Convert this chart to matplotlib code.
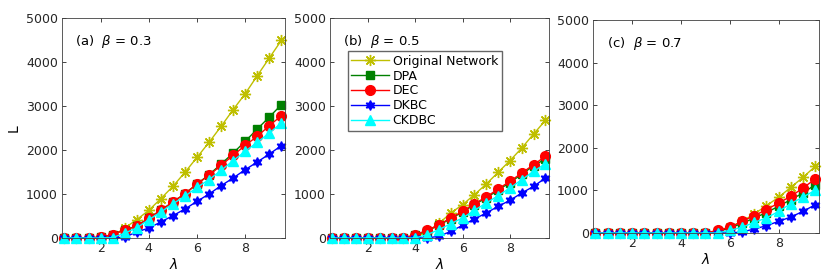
import numpy as np
import matplotlib
matplotlib.use("Agg")
import matplotlib.pyplot as plt

lam = np.arange(0.5, 10, 0.5)

# panel (a) beta = 0.3
a_orig = [0, 0, 0, 0, 40, 227, 417, 629, 894, 1174, 1492, 1833, 2174, 2538, 2917, 3280, 3689, 4091, 4492]
a_dpa = [0, 0, 0, 20, 76, 190, 265, 455, 629, 818, 1008, 1227, 1440, 1680, 1932, 2197, 2477, 2750, 3030]
a_dec = [0, 0, 0, 20, 76, 190, 265, 455, 629, 818, 1008, 1227, 1424, 1652, 1879, 2106, 2311, 2553, 2780]
a_dkbc = [0, 0, 0, 0, 0, 20, 136, 227, 364, 508, 659, 833, 1000, 1189, 1364, 1553, 1727, 1909, 2098]
a_ckdbc = [0, 0, 0, 0, 10, 110, 230, 417, 590, 780, 947, 1152, 1326, 1538, 1758, 1970, 2174, 2386, 2614]

# panel (b) beta = 0.5
b_orig = [0] * 7 + [30, 130, 330, 568, 758, 985, 1227, 1492, 1758, 2045, 2364, 2674]
b_dpa = [0] * 7 + [60, 160, 290, 440, 590, 760, 910, 1090, 1260, 1450, 1640, 1800]
b_dec = [0] * 7 + [76, 174, 303, 455, 606, 780, 932, 1114, 1288, 1477, 1667, 1856]
b_dkbc = [0] * 9 + [40, 150, 288, 432, 568, 720, 856, 1023, 1174, 1364]
b_ckdbc = [0] * 8 + [76, 190, 326, 455, 629, 795, 962, 1136, 1326, 1515, 1689]

# panel (c) beta = 0.7
c_orig = [0] * 10 + [30, 133, 274, 447, 643, 839, 1074, 1309, 1567]
c_dpa = [0] * 10 + [40, 110, 230, 350, 480, 630, 784, 940, 1137]
c_dec = [0] * 10 + [63, 133, 274, 408, 549, 705, 862, 1058, 1270]
c_dkbc = [0] * 12 + [24, 94, 172, 274, 376, 509, 666]
c_ckdbc = [0] * 11 + [63, 133, 251, 353, 509, 690, 846, 1003]

names = ["Original Network", "DPA", "DEC", "DKBC", "CKDBC"]
colors = ["#bfbf00", "#008000", "#ff0000", "#0000ff", "#00ffff"]
markers = [(8, 2, 0), "s", "o", (6, 1, 0), "^"]
msizes = [8, 6, 7, 7, 7]

panels = [
    ("(a)", "0.3", [a_orig, a_dpa, a_dec, a_dkbc, a_ckdbc]),
    ("(b)", "0.5", [b_orig, b_dpa, b_dec, b_dkbc, b_ckdbc]),
    ("(c)", "0.7", [c_orig, c_dpa, c_dec, c_dkbc, c_ckdbc]),
]
positions = [
    [62 / 830, 39 / 277, 223 / 830, 220 / 277],
    [330 / 830, 39 / 277, 219 / 830, 220 / 277],
    [593 / 830, 44 / 277, 226 / 830, 213 / 277],
]

fig = plt.figure(figsize=(8.3, 2.77), dpi=100)
axes = []
for pos, (tag, beta, series) in zip(positions, panels):
    ax = fig.add_axes(pos)
    for ys, name, c, m, ms in zip(series, names, colors, markers, msizes):
        ax.plot(lam, ys, color=c, marker=m, ms=ms, lw=1, label=name,
                clip_on=False, markeredgecolor=c, markerfacecolor=c,
                markeredgewidth=1.0)
    ax.set_xlim(0.4, 9.65)
    ax.set_ylim(0, 5000)
    ax.set_xticks([2, 4, 6, 8])
    ax.set_yticks([0, 1000, 2000, 3000, 4000, 5000])
    ax.tick_params(direction="in", length=3, width=0.6, labelsize=9,
                   colors="#262626", top=True, right=True, pad=3)
    for s in ax.spines.values():
        s.set_color("#404040")
        s.set_linewidth(0.6)
    ax.set_xlabel(r"$\lambda$", fontsize=10, labelpad=1)
    ax.text(0.06, 0.93, tag + r"  $\beta$ = " + beta, transform=ax.transAxes,
            fontsize=9.5, va="top", ha="left")
    axes.append(ax)

axes[0].set_ylabel("L", fontsize=10)
axes[1].legend(loc="upper left", bbox_to_anchor=(0.08, 0.85), fontsize=9,
               frameon=True, fancybox=False, edgecolor="#404040",
               handlelength=3, borderpad=0.3, labelspacing=0.15,
               handletextpad=0.3, borderaxespad=0)

plt.savefig("out.png", dpi=100)
